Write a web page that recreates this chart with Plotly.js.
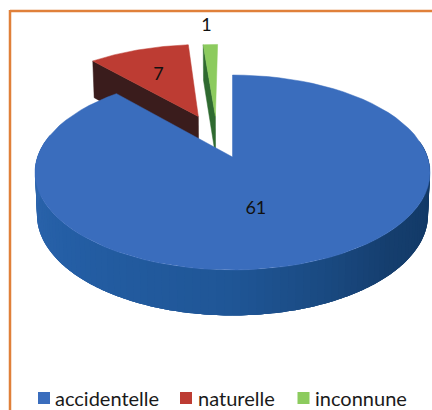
<!DOCTYPE html>
<html><head><meta charset="utf-8">
<script src="https://cdn.plot.ly/plotly-3.0.1.min.js"></script>
<style>html,body{margin:0;padding:0;background:#fff;overflow:hidden}#c{width:432px;height:410px}</style>
</head><body><div id="c"></div>
<script>
const categories = ['accidentelle','naturelle','inconnune'];
const values = [61,7,1];
const topColors = ['#3a6dbd','#bd3c33','#8ccb5e'];
const edgeColors = ['#2b62ad','#3a1c1c','#2f6a30'];
const sideStops = [[90,[16,54,98]],[135,[21,62,110]],[180,[31,86,150]],[230,[36,94,165]],[280,[48,104,176]]];
// explosion offsets on the pie plane, per slice
const explode = [[0,0],[-0.188,0.458],[-0.094,0.46]];
const labelPlace = [[0.11,-0.51],[-0.44,0.99],[-0.17,1.75]];
// legend placement in page pixels: swatch centre, text start
const legendSwatchX = [44,186,303.5];
const legendTextX = [55,198,315];
const legendDrop = 7.5;

const cx=232.5, cy=157, A=95, B=195, k=0.159;
function P(u,v,z){const d=1+k*v;return [cx+B*u/d*(1-0.01*z), cy-A*v/d+z*(41.5-4*v)];}
const rad=t=>t*Math.PI/180;
function rim(t,o,z){return P(Math.sin(rad(t))+o[0],Math.cos(rad(t))+o[1],z);}
function poly(pts,color,extra){
  return Object.assign({type:'scatter',mode:'lines',x:pts.map(p=>p[0]),y:pts.map(p=>p[1]),fill:'toself',
    fillcolor:color,line:{color:color,width:0.5},hoverinfo:'skip',showlegend:false},extra||{});
}
const total=values.reduce((a,b)=>a+b,0);
const spans=[];let s=0;
values.forEach(v=>{spans.push([s,s+v/total*360]);s+=v/total*360;});

function sector(i){
  const o=explode[i],[a,b]=spans[i],pts=[P(o[0],o[1],0)];
  for(let t=a;t<=b+1e-6;t+=Math.max((b-a)/80,0.25))pts.push(rim(t,o,0));
  pts.push(rim(b,o,0));
  pts.push(P(o[0],o[1],0));
  return poly(pts,topColors[i]);
}
function radialFace(i,t){
  const o=explode[i];
  return poly([P(o[0],o[1],0),rim(t,o,0),rim(t,o,1),P(o[0],o[1],1),P(o[0],o[1],0)],edgeColors[i]);
}
function sideColor(t){
  for(let j=0;j<sideStops.length-1;j++){
    const [t0,c0]=sideStops[j],[t1,c1]=sideStops[j+1];
    if(t<=t1){const f=(t-t0)/(t1-t0);
      return 'rgb('+c0.map((c,n)=>Math.round(c+(c1[n]-c)*f)).join(',')+')';}
  }
  return 'rgb('+sideStops[sideStops.length-1][1].join(',')+')';
}
const traces=[];
// exploded slices, back to front
traces.push(radialFace(1,spans[1][0]));
traces.push(sector(1));
traces.push(radialFace(2,spans[2][0]));
traces.push(sector(2));
// blue wall: overlapping segments so no seams show
for(let t=80;t<280;t+=2){
  const pts=[];
  for(let q=t;q<=t+6;q+=1)pts.push(rim(q,[0,0],0));
  for(let q=t+6;q>=t;q-=1)pts.push(rim(q,[0,0],1));
  pts.push(pts[0]);
  traces.push(poly(pts,sideColor(t+1),{mode:'none'}));
}
traces.push(sector(0));
// value labels
const lp=labelPlace.map(l=>P(l[0],l[1],0));
traces.push({type:'scatter',mode:'text',x:lp.map(p=>p[0]),y:lp.map(p=>p[1]),text:values.map(String),
  textfont:{family:'Lato, Open Sans, sans-serif',size:18,color:'#111'},textposition:'middle center',
  hoverinfo:'skip',showlegend:false});
// legend
categories.forEach((c,i)=>traces.push({type:'scatter',mode:'markers',x:[null],y:[null],name:c,
  marker:{symbol:'square',size:12,color:topColors[i]},hoverinfo:'skip'}));

const layout={
  width:432,height:410,margin:{l:0,r:0,t:0,b:0},paper_bgcolor:'#fff',plot_bgcolor:'#fff',
  xaxis:{range:[0,432],visible:false,fixedrange:true},
  yaxis:{range:[410,0],visible:false,fixedrange:true},
  font:{family:'Lato, Open Sans, sans-serif'},
  legend:{orientation:'h',x:0.04,xanchor:'left',y:0,yanchor:'bottom',font:{size:20,color:'#1a1a1a'},
    bgcolor:'rgba(0,0,0,0)',itemsizing:'constant',tracegroupgap:0},
  shapes:[
    {type:'line',xref:'x',yref:'y',x0:10,x1:432,y0:11,y1:11,line:{color:'#e0803a',width:2.5}},
    {type:'line',xref:'x',yref:'y',x0:10,x1:10,y0:10,y1:410,line:{color:'#e0803a',width:2.5}}
  ]
};
Plotly.newPlot('c',traces,layout,{displayModeBar:false,staticPlot:true}).then(()=>{
  const lg=document.querySelector('.legend');
  if(!lg)return;
  const m=/translate\(([-\d.]+)[ ,]+([-\d.]+)\)/.exec(lg.getAttribute('transform')||'');
  const lx=m?+m[1]:0, ly=m?+m[2]:0;
  lg.setAttribute('transform','translate('+lx+','+(ly+legendDrop)+')');
  lg.querySelectorAll('.traces').forEach((it,i)=>{
    const t=/translate\(([-\d.]+)[ ,]+([-\d.]+)\)/.exec(it.getAttribute('transform')||'');
    const iy=t?+t[2]:0;
    it.setAttribute('transform','translate('+(legendSwatchX[i]-lx-20)+','+iy+')');
    const tx=it.querySelector('.legendtext');
    if(tx)tx.setAttribute('x',legendTextX[i]-legendSwatchX[i]+20);
  });
});
</script></body></html>
